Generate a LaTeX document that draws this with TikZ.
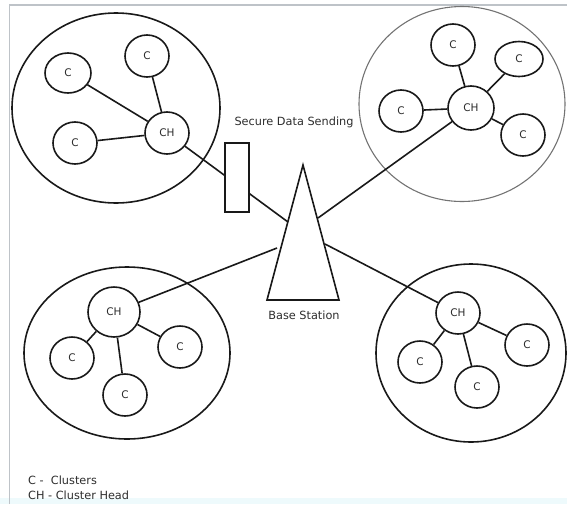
\documentclass[tikz,border=0pt]{standalone}
\usepackage{fontspec}
\setmainfont{DejaVu Sans}
\usetikzlibrary{shapes.geometric}
\definecolor{framegray}{RGB}{190,195,200}
\definecolor{bandcyan}{RGB}{238,250,252}
\definecolor{txt}{RGB}{45,45,45}
\begin{document}
\begin{tikzpicture}[x=1pt,y=-1pt,
  link/.style={line width=1.6pt,black!90},
  nd/.style={ellipse,draw=black!90,line width=1.6pt,fill=white,inner sep=0pt,
     minimum width=44pt,minimum height=42pt,text=txt,font=\fontsize{10.5}{12}\selectfont},
  cluster/.style={ellipse,draw=black!90,line width=1.6pt,inner sep=0pt},
  lbl/.style={text=txt,font=\fontsize{11.3}{13}\selectfont,inner sep=0pt}]
\useasboundingbox (0,0) rectangle (567,504);
\fill[bandcyan] (0,498) rectangle (567,504);
\draw[framegray,line width=1.6pt] (9.5,504) -- (9.5,5) -- (567,5);

% clusters
\node[cluster,minimum width=208pt,minimum height=190pt] (k1) at (116,108) {};
\node[cluster,draw=black!55,line width=1.1pt,minimum width=206pt,minimum height=195pt] (k2) at (462,104) {};
\node[cluster,minimum width=206pt,minimum height=172pt] (k3) at (127,353) {};
\node[cluster,minimum width=190pt,minimum height=178pt] (k4) at (471,353) {};

% base station
\coordinate (apex) at (303,165);
\coordinate (bl) at (267,300);
\coordinate (br) at (339,300);
\coordinate (e1) at (288,222);
\coordinate (e2) at (318,218);
\coordinate (e3) at (277,248);
\coordinate (e4) at (325,244);
\draw[line width=1.6pt,black!90,line join=miter] (apex) -- (bl) -- (br) -- cycle;

% cluster 1
\node[nd,minimum width=46pt,minimum height=40pt] (c11) at (68,73) {C};
\node[nd] (c12) at (147,56) {C};
\node[nd] (c13) at (75,143) {C};
\node[nd] (h1) at (167,133) {CH};
\draw[link] (c11) -- (h1);
\draw[link] (c12) -- (h1);
\draw[link] (c13) -- (h1);
\draw[link] (h1) -- (e1);
\node[draw=black!90,line width=1.6pt,fill=white,minimum width=24pt,minimum height=69pt,inner sep=0pt] (sec) at (237,177.5) {};

% cluster 2
\node[nd] (c21) at (453,45) {C};
\node[nd,minimum width=48pt,minimum height=35pt] (c22) at (519,59) {C};
\node[nd] (c23) at (401,111) {C};
\node[nd] (c24) at (523,135) {C};
\node[nd,minimum width=46pt,minimum height=44pt] (h2) at (471,108) {CH};
\draw[link] (c21) -- (h2);
\draw[link] (c22) -- (h2);
\draw[link] (c23) -- (h2);
\draw[link] (c24) -- (h2);
\draw[link] (h2) -- (e2);

% cluster 3
\node[nd,minimum width=52pt,minimum height=50pt] (h3) at (114,312) {CH};
\node[nd] (c31) at (72,358) {C};
\node[nd] (c32) at (180,347) {C};
\node[nd] (c33) at (125,395) {C};
\draw[link] (c31) -- (h3);
\draw[link] (c32) -- (h3);
\draw[link] (c33) -- (h3);
\draw[link] (h3) -- (e3);

% cluster 4
\node[nd] (h4) at (458,313) {CH};
\node[nd] (c41) at (420,362) {C};
\node[nd] (c42) at (477,387) {C};
\node[nd] (c43) at (527,345) {C};
\draw[link] (c41) -- (h4);
\draw[link] (c42) -- (h4);
\draw[link] (c43) -- (h4);
\draw[link] (h4) -- (e4);

% labels
\node[lbl] (sds) at (294,122) {Secure Data Sending};
\node[lbl] (bs) at (304,315) {Base Station};
\node[lbl,anchor=west] (lg1) at (28,480) {C -\ \ Clusters};
\node[lbl,anchor=west] (lg2) at (28,495) {CH - Cluster Head};
\end{tikzpicture}
\end{document}
